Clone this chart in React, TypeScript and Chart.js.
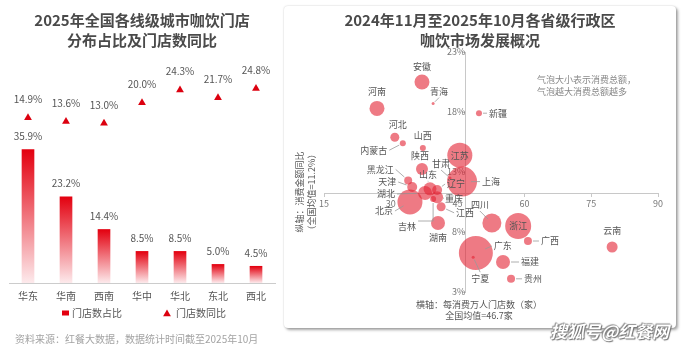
import React, { useEffect, useRef } from 'react';
import { Chart, registerables } from 'chart.js';

Chart.register(...registerables);

const FONT = '"Noto Sans CJK SC", "Noto Sans", sans-serif';

// ---------- Left chart data ----------
const leftTitle = ['2025年全国各线级城市咖饮门店', '分布占比及门店数同比'];
const regions = ['华东', '华南', '西南', '华中', '华北', '东北', '西北'];
const storeShare = [35.9, 23.2, 14.4, 8.5, 8.5, 5.0, 4.5];
const storeYoY = [14.9, 13.6, 13.0, 20.0, 24.3, 21.7, 24.8];
const legendLabels = ['门店数占比', '门店数同比'];
const sourceNote = '资料来源：红餐大数据，数据统计时间截至2025年10月';

// ---------- Right chart data ----------
const rightTitle = ['2024年11月至2025年10月各省级行政区', '咖饮市场发展概况'];
const provinces = ['安徽', '河南', '青海', '新疆', '河北', '内蒙古', '山西', '陕西', '甘肃', '黑龙江', '天津', '山东', '辽宁', '湖北', '重庆', '吉林', '北京', '江西', '湖南', '江苏', '上海', '四川', '浙江', '广西', '广东', '宁夏', '福建', '贵州', '云南'];
const storesPer10k = [37.0, 26.9, 39.5, 49.8, 30.9, 32.7, 37.2, 37.0, 43.3, 33.9, 34.8, 38.8, 40.4, 37.7, 40.4, 39.5, 34.3, 41.3, 40.6, 45.5, 46.0, 52.7, 58.6, 60.8, 49.1, 48.5, 55.2, 57.0, 79.7];
const spendGrowth = [20.5, 18.3, 18.7, 17.9, 15.9, 15.4, 15.0, 13.25, 12.5, 12.3, 11.75, 11.6, 11.5, 11.25, 10.9, 10.75, 10.5, 10.1, 8.75, 14.4, 12.2, 8.75, 8.5, 7.25, 6.25, 5.9, 5.5, 4.1, 6.75];
const spendBubble = [7.5, 7.5, 1.5, 3, 4.5, 3, 3, 6, 1.5, 4, 5, 6.5, 5, 7, 6, 3, 12.5, 4.5, 7, 12.5, 15, 9.5, 13, 4, 17, 1.5, 7, 4, 5.5];
const xTickValues = [15, 30, 45, 60, 75, 90];
const yTickValues = [3, 8, 13, 18, 23];
const nationalAvgX = 46.7;
const nationalAvgY = 11.2;
const bubbleNote = ['气泡大小表示消费总额，', '气泡越大消费总额越多'];
const xAxisTitle = ['横轴：每消费万人门店数（家）', '全国均值=46.7家'];
const yAxisTitle = ['纵轴：消费金额同比', '（全国均值=11.2%）'];

// label placement (layout only): [dx, dy, leader type]
const labelPlacement: [number, number, string][] = [
  [0, -15, 'none'], [0, -17, 'none'], [6, -12, 'line'], [19, 0, 'line'], [3, -13, 'none'],
  [-29, 7, 'line'], [0, -12, 'none'], [-2, -13, 'none'], [-9, -14, 'line'], [-28, -11, 'line'],
  [-25, -5, 'line'], [-2, -14, 'line'], [19, -6, 'line'], [-39, 1, 'line'], [17, 1, 'line'],
  [-26, 28, 'elbow'], [-26, 9, 'line'], [24, 6, 'line'], [0, 15, 'none'], [0, 0, 'none'],
  [29, 0, 'line'], [-12, -18, 'line'], [0, 0, 'none'], [22, 0, 'line'], [27, -7, 'line'],
  [7, 21, 'line'], [27, 0, 'line'], [22, 0, 'line'], [0, -16, 'none'],
];

const RED = '#e3000f';

const leftExtras = {
  id: 'leftExtras',
  afterDatasetsDraw(chart: any) {
    const { ctx } = chart;
    const bars = chart.getDatasetMeta(0).data;
    const tris = chart.getDatasetMeta(1).data;
    ctx.save();
    ctx.font = `10px ${FONT}`;
    ctx.fillStyle = '#555';
    ctx.textAlign = 'center';
    ctx.textBaseline = 'middle';
    bars.forEach((b: any, i: number) => ctx.fillText(storeShare[i].toFixed(1) + '%', b.x, b.y - 13.5));
    tris.forEach((t: any, i: number) => ctx.fillText(storeYoY[i].toFixed(1) + '%', t.x, t.y - 18.5));
    // legend
    const ly = 313;
    ctx.fillStyle = RED;
    ctx.fillRect(62, ly - 2.5, 7, 5);
    const cx = 167, cy = ly + 1, r = 4.5;
    ctx.beginPath();
    ctx.moveTo(cx, cy - r);
    ctx.lineTo(cx - r * 0.866, cy + r / 2);
    ctx.lineTo(cx + r * 0.866, cy + r / 2);
    ctx.closePath();
    ctx.fillStyle = '#dc000f';
    ctx.fill();
    ctx.fillStyle = '#555';
    ctx.textAlign = 'left';
    ctx.fillText(legendLabels[0], 72, ly);
    ctx.fillText(legendLabels[1], 176, ly);
    // source
    ctx.fillStyle = '#a3a3a3';
    ctx.fillText(sourceNote, 15, 339);
    ctx.restore();
  },
};

const rightExtras = {
  id: 'rightExtras',
  afterDatasetsDraw(chart: any) {
    const { ctx } = chart;
    const meta = chart.getDatasetMeta(0);
    ctx.save();
    // titles
    ctx.fillStyle = '#4a4a4a';
    ctx.font = `bold 15px ${FONT}`;
    ctx.textAlign = 'center';
    ctx.textBaseline = 'middle';
    ctx.fillText(rightTitle[0], 196, 14);
    ctx.fillText(rightTitle[1], 196, 34);
    // note
    ctx.font = `9px ${FONT}`;
    ctx.fillStyle = '#888';
    ctx.textAlign = 'left';
    ctx.fillText(bubbleNote[0], 253, 74);
    ctx.fillText(bubbleNote[1], 253, 86);
    // axis titles
    ctx.fillStyle = '#555';
    ctx.textAlign = 'center';
    ctx.fillText(xAxisTitle[0], 195, 299);
    ctx.fillText(xAxisTitle[1], 195, 310);
    ctx.save();
    ctx.translate(16, 186);
    ctx.rotate(-Math.PI / 2);
    ctx.fillText(yAxisTitle[0], 0, 0);
    ctx.restore();
    ctx.save();
    ctx.translate(28, 186);
    ctx.rotate(-Math.PI / 2);
    ctx.fillText(yAxisTitle[1], 0, 0);
    ctx.restore();
    // bubble labels
    ctx.font = `9px ${FONT}`;
    ctx.strokeStyle = '#999';
    ctx.lineWidth = 0.8;
    meta.data.forEach((el: any, i: number) => {
      const [dx, dy, kind] = labelPlacement[i];
      const name = provinces[i];
      const lx = el.x + dx;
      const ly = el.y + dy;
      const r = spendBubble[i];
      const w = ctx.measureText(name).width;
      if (kind !== 'none') {
        let ax = lx, ay = ly;
        if (Math.abs(dx) >= Math.abs(dy)) ax = lx - Math.sign(dx) * (w / 2 + 2);
        else ay = ly - Math.sign(dy) * 6;
        ctx.beginPath();
        if (kind === 'elbow') {
          ax = lx + w / 2 + 2;
          ctx.moveTo(ax, ay);
          ctx.lineTo(el.x, ay);
          ctx.lineTo(el.x, el.y + r + 1);
        } else {
          const ang = Math.atan2(ay - el.y, ax - el.x);
          const d = r > 7 ? r * 0.6 : r + 1;
          ctx.moveTo(el.x + Math.cos(ang) * d, el.y + Math.sin(ang) * d);
          ctx.lineTo(ax, ay);
        }
        ctx.stroke();
      }
      ctx.fillStyle = '#555';
      ctx.fillText(name, lx, ly);
    });
    ctx.restore();
  },
};

function barGradient(c: any) {
  const chart = c.chart;
  if (!chart.chartArea || c.type !== 'data') return RED;
  const ys = chart.scales.y;
  const v = c.raw as number;
  const top = ys.getPixelForValue(v);
  const bottom = ys.getPixelForValue(0);
  const g = chart.ctx.createLinearGradient(0, top, 0, bottom);
  g.addColorStop(0, '#e3000f');
  g.addColorStop(1, '#fdeaec');
  return g;
}

export default function App() {
  const leftRef = useRef<HTMLCanvasElement>(null);
  const rightRef = useRef<HTMLCanvasElement>(null);

  useEffect(() => {
    const left = new Chart(leftRef.current as HTMLCanvasElement, {
      type: 'bar',
      data: {
        labels: regions,
        datasets: [
          { type: 'bar', label: legendLabels[0], data: storeShare, yAxisID: 'y', backgroundColor: barGradient as any, barThickness: 12, borderWidth: 0 } as any,
          { type: 'line', label: legendLabels[1], data: storeYoY, yAxisID: 'y2', showLine: false, pointStyle: 'triangle', pointRadius: 4.5, pointBackgroundColor: '#dc000f', pointBorderWidth: 0, borderColor: '#dc000f', backgroundColor: '#dc000f' } as any,
        ],
      },
      options: {
        responsive: false,
        animation: false,
        devicePixelRatio: 1,
        events: [],
        layout: { padding: { left: 9, right: 5, top: 0, bottom: 41 } },
        plugins: {
          legend: { display: false },
          tooltip: { enabled: false },
          title: {
            display: true,
            text: leftTitle,
            color: '#4a4a4a',
            font: { family: FONT, size: 15, weight: 'bold', lineHeight: 1.3 },
            padding: { top: 11, bottom: 0 },
          },
        },
        scales: {
          x: {
            grid: { display: false, drawTicks: false },
            border: { display: true, color: '#cccccc' },
            ticks: { color: '#555', font: { family: FONT, size: 10 }, padding: 7 },
          },
          y: { display: false, min: 0, max: 62.7 },
          y2: { display: false, min: -41.2, max: 37.9 },
        },
      } as any,
      plugins: [leftExtras],
    });

    const right = new Chart(rightRef.current as HTMLCanvasElement, {
      type: 'bubble',
      data: {
        datasets: [
          {
            label: '省级行政区',
            data: provinces.map((_, i) => ({ x: storesPer10k[i], y: spendGrowth[i], r: spendBubble[i] })),
            backgroundColor: 'rgba(227,33,50,0.6)',
            borderWidth: 0,
          },
        ],
      },
      options: {
        responsive: false,
        animation: false,
        devicePixelRatio: 1,
        events: [],
        layout: { padding: { left: 40, right: 18, top: 46, bottom: 36 } },
        plugins: { legend: { display: false }, tooltip: { enabled: false }, title: { display: false } },
        scales: {
          x: {
            type: 'linear',
            min: 15,
            max: 90,
            position: { y: nationalAvgY },
            afterBuildTicks: (s: any) => { s.ticks = xTickValues.map((v) => ({ value: v })); },
            ticks: { color: '#777', font: { family: FONT, size: 9 }, padding: 2, maxRotation: 0, autoSkip: false },
            grid: { drawOnChartArea: false, drawTicks: true, tickLength: 3, color: '#c8c8c8' },
            border: { display: true, color: '#c8c8c8' },
          },
          y: {
            type: 'linear',
            min: 3,
            max: 23,
            position: { x: nationalAvgX },
            afterBuildTicks: (s: any) => { s.ticks = yTickValues.map((v) => ({ value: v })); },
            ticks: { color: '#777', font: { family: FONT, size: 9 }, padding: 2, autoSkip: false, callback: (v: any) => v + '%' },
            grid: { drawOnChartArea: false, drawTicks: true, tickLength: 3, color: '#c8c8c8' },
            border: { display: true, color: '#c8c8c8' },
          },
        },
      } as any,
      plugins: [rightExtras],
    });

    return () => {
      left.destroy();
      right.destroy();
    };
  }, []);

  return (
    <div style={{ position: 'absolute', left: 0, top: 0, width: 690, height: 350, background: '#fff', overflow: 'hidden', fontFamily: FONT }}>
      <canvas ref={leftRef} width={280} height={350} style={{ position: 'absolute', left: 0, top: 0 }} />
      <div style={{ position: 'absolute', left: 284, top: 6, width: 392, height: 322, borderRadius: 4, background: '#fff', boxShadow: '0 0 2px rgba(0,0,0,0.2), 2px 2px 3px rgba(0,0,0,0.35)' }} />
      <canvas ref={rightRef} width={392} height={322} style={{ position: 'absolute', left: 284, top: 6 }} />
      <div style={{ position: 'absolute', left: 550, top: 318, fontSize: 17, fontStyle: 'italic', fontWeight: 700, color: '#fff', whiteSpace: 'nowrap', textShadow: '0 0 1px #555, 1px 1px 1px #777, -1px -1px 1px #999' }}>搜狐号@红餐网</div>
    </div>
  );
}
